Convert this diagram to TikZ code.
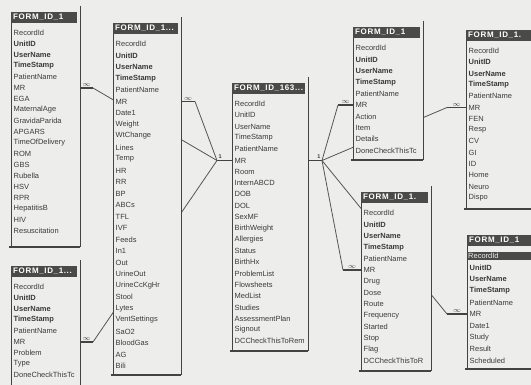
\documentclass[tikz,border=0pt]{standalone}
\usepackage{fontspec}
\setmainfont{Liberation Sans}
\newfontfamily\barfont[LetterSpace=8]{Liberation Sans}
\usepackage{tikz}
\usetikzlibrary{backgrounds}
\definecolor{paper}{HTML}{EDEDEB}
\definecolor{barfill}{HTML}{4A4A48}
\definecolor{ink}{HTML}{3A3A3A}
\definecolor{rimgray}{HTML}{434343}
\definecolor{relgray}{HTML}{555555}
\newcommand{\kf}[1]{\textbf{#1}}
\newcommand{\selrow}[1]{{\setlength{\fboxsep}{1pt}\hspace*{-2.5pt}\colorbox{barfill}{\makebox[74pt][l]{\color{paper}#1}}}}
% #1 name, #2 left, #3 top, #4 right, #5 bottom, #6 title, #7 row step, #8 fields
\newcommand{\formtable}[8]{%
  \node[body, minimum width={(#4-#2)*1pt}, minimum height={(#5-#3)*1pt}] (#1) at (#2,#3) {};
  \fill[barfill] (#2,#3) rectangle (#4-3,#3+11);
  \node[bartext] (#1-t) at (#2+2,#3+5.5) {#6};
  \begin{scope}
    \clip (#2,#3) rectangle (#4-1,#5);
    \foreach \f [count=\i] in {#8}
      \node[fld] (#1-\i) at (#2+2.5,{#3+21+(\i-1)*#7}) {\f};
  \end{scope}
  \draw[rim] (#2,#3+11) -- (#1.south west);
  \draw[rim, line width=0.9pt] ([yshift=6pt]#1.north east) -- (#1.south east);
  \draw[rim, line width=1.4pt] ([xshift=-2pt]#1.south west) -- (#1.south east);
}

\begin{document}
\begin{tikzpicture}[
  x=1pt, y=-1pt,
  body/.style={anchor=north west, fill=paper, inner sep=0pt, outer sep=0pt},
  bartext/.style={anchor=west, inner sep=0pt, text=white, font=\barfont\bfseries\fontsize{8}{8}\selectfont},
  fld/.style={anchor=west, inner sep=0pt, text=ink, font=\fontsize{7.5}{8}\selectfont},
  rim/.style={draw=rimgray, line width=0.5pt},
  stub/.style={draw=rimgray, line width=1.5pt},
  rel/.style={draw=relgray, line width=0.8pt},
  many/.style={above, inner sep=0.6pt, text=ink, font=\fontsize{7}{7}\selectfont},
  one/.style={inner sep=0.8pt, text=ink, font=\bfseries\fontsize{5.5}{6}\selectfont},
]
  \useasboundingbox (0,0) rectangle (531,385);
  \clip (0,0) rectangle (531,385);

  \formtable{tA}{11}{12}{80}{247}{FORM\_ID\_1}{11}{RecordId, \kf{UnitID}, \kf{UserName}, \kf{TimeStamp}, PatientName, MR, EGA, MaternalAge, GravidaParida, APGARS, TimeOfDelivery, ROM, GBS, Rubella, HSV, RPR, HepatitisB, HIV, Resuscitation}
  \formtable{tB}{113}{23}{181}{375}{FORM\_ID\_1...}{11.5}{RecordId, \kf{UnitID}, \kf{UserName}, \kf{TimeStamp}, PatientName, MR, Date1, Weight, WtChange, Lines, Temp, HR, RR, BP, ABCs, TFL, IVF, Feeds, In1, Out, UrineOut, UrineCcKgHr, Stool, Lytes, VentSettings, SaO2, BloodGas, AG, Bili}
  \formtable{tC}{232}{83}{308}{351}{FORM\_ID\_163...}{11.3}{RecordId, UnitID, UserName, TimeStamp, PatientName, MR, Room, InternABCD, DOB, DOL, SexMF, BirthWeight, Allergies, Status, BirthHx, ProblemList, Flowsheets, MedList, Studies, AssessmentPlan, Signout, DCCheckThisToRem}
  \formtable{tD}{353}{27}{423}{160}{FORM\_ID\_1}{11.4}{RecordId, \kf{UnitID}, \kf{UserName}, \kf{TimeStamp}, PatientName, MR, Action, Item, Details, DoneCheckThisTc}
  \formtable{tE}{466}{30}{545}{209}{FORM\_ID\_1.}{11.3}{RecordId, \kf{UnitID}, \kf{UserName}, \kf{TimeStamp}, PatientName, MR, FEN, Resp, CV, GI, ID, Home, Neuro, Dispo}
  \formtable{tF}{361}{192}{431}{371}{FORM\_ID\_1.}{11.4}{RecordId, \kf{UnitID}, \kf{UserName}, \kf{TimeStamp}, PatientName, MR, Drug, Dose, Route, Frequency, Started, Stop, Flag, DCCheckThisToR}
  \formtable{tG}{467}{235}{545}{369}{FORM\_ID\_1}{11.6}{\selrow{RecordId}, \kf{UnitID}, \kf{UserName}, \kf{TimeStamp}, PatientName, MR, Date1, Study, Result, Scheduled}
  \formtable{tH}{11}{266}{80}{395}{FORM\_ID\_1...}{11}{RecordId, \kf{UnitID}, \kf{UserName}, \kf{TimeStamp}, PatientName, MR, Problem, Type, DoneCheckThisTc}

  % relationship lines run behind the field lists
  \begin{scope}[on background layer]
    \fill[paper] (0,0) rectangle (531,385);
    \coordinate (hubL) at ([xshift=-15pt]tC.west |- tC-6);
    \coordinate (hubR) at ([xshift=14pt]tC.east |- tC-6);
    \draw[stub] (tC.west |- tC-6) -- (hubL) node[one, above right] {1};
    \draw[stub] (tC.east |- tC-6) -- (hubR) node[one, above left] {1};
    \draw[stub] (tA.east |- tA-6) -- ++(13,0) coordinate (kA) node[many, midway] {$\infty$};
    \draw[stub] (tB.east |- tB-6) -- ++(14,0) coordinate (kB) node[many, midway] {$\infty$};
    \draw[stub] (tH.east |- tH-6) -- ++(13,0) coordinate (kH) node[many, midway] {$\infty$};
    \draw[stub] (tD.west |- tD-6) -- ++(-15,0) coordinate (kD) node[many, midway] {$\infty$};
    \draw[stub] (tE.west |- tE-6) -- ++(-19,0) coordinate (kE) node[many, midway] {$\infty$};
    \draw[stub] (tF.west |- tF-6) -- ++(-18,0) coordinate (kF) node[many, midway] {$\infty$};
    \draw[stub] (tG.west |- tG-6) -- ++(-20,0) coordinate (kG) node[many, midway] {$\infty$};
    \foreach \k in {kA,kB,kH} \draw[rel] (\k) -- (hubL);
    \foreach \k in {kD,kE,kF,kG} \draw[rel] (\k) -- (hubR);
  \end{scope}
\end{tikzpicture}
\end{document}
